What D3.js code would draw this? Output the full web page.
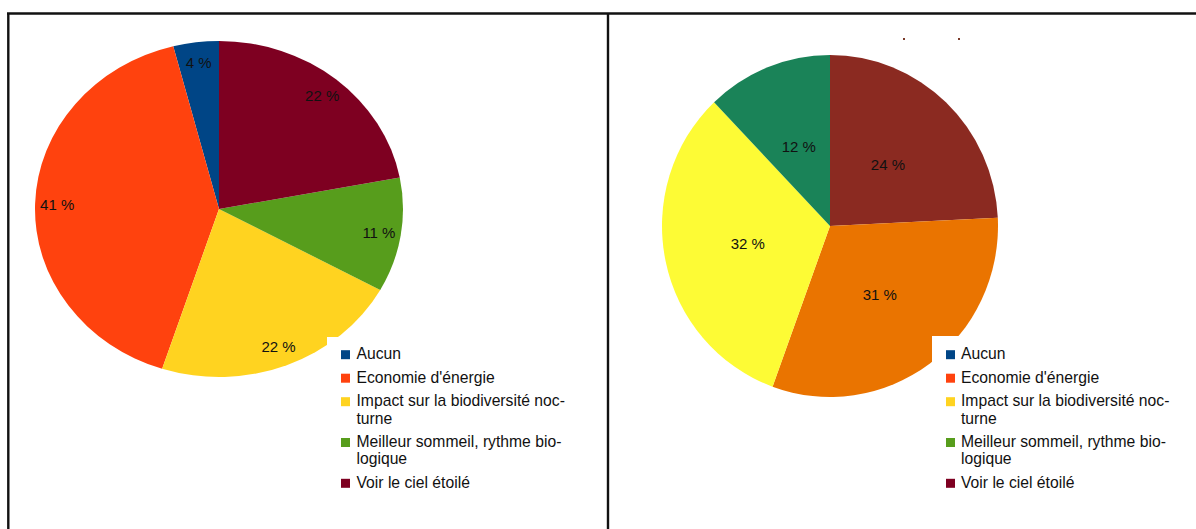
<!DOCTYPE html>
<html>
<head>
<meta charset="utf-8">
<script src="https://cdn.jsdelivr.net/npm/d3@7"></script>
<style>
  html, body { margin: 0; padding: 0; background: #fff; }
  svg { display: block; font-family: "Liberation Sans", Arial, sans-serif; }
</style>
</head>
<body>
<svg id="chart" width="1196" height="529"></svg>
<script>
// Answer categories (legend order)
const categories = ["Aucun", "Economie d'énergie", "Impact sur la biodiversité nocturne",
                    "Meilleur sommeil, rythme biologique", "Voir le ciel étoilé"];
// Legend text as it wraps in the legend box
const legendLines = [["Aucun"], ["Economie d'énergie"], ["Impact sur la biodiversité noc-", "turne"],
                     ["Meilleur sommeil, rythme bio-", "logique"], ["Voir le ciel étoilé"]];
const categoryColors = ["#004586", "#ff420e", "#ffd320", "#579d1c", "#7e0021"];

// Left pie: share per category (%)
const leftValues = [4, 41, 22, 11, 22];

// Right pie: slices clockwise from 12 o'clock (%), with their own fills
const rightValues = [24, 31, 32, 12];
const rightColors = ["#8b2a21", "#ea7400", "#fdfb35", "#1a8358"];

const svg = d3.select("#chart");

// Panel frame
const frame = svg.append("g").attr("stroke", "#111").attr("stroke-width", 2.4).attr("fill", "none");
frame.append("line").attr("x1", 7).attr("x2", 1196).attr("y1", 13.5).attr("y2", 13.5);
frame.append("line").attr("x1", 8.3).attr("x2", 8.3).attr("y1", 13).attr("y2", 529);
frame.append("line").attr("x1", 608).attr("x2", 608).attr("y1", 13).attr("y2", 529);

// Draws an (optionally elliptical) pie; labels sit at fraction `lf` of the radius
function drawPie(values, colors, cx, cy, rx, ry, clockwiseFromLast, lf) {
  const pie = d3.pie().sort(null).value(d => d);
  if (clockwiseFromLast) pie.startAngle(2 * Math.PI).endAngle(0);
  const arcs = pie(values);
  const arc = d3.arc().innerRadius(0).outerRadius(ry);
  const g = svg.append("g").attr("transform", `translate(${cx},${cy})`);
  g.append("g").attr("transform", `scale(${rx / ry},1)`)
    .selectAll("path").data(arcs).join("path")
    .attr("d", arc)
    .attr("fill", (d, i) => colors[i]);
  g.selectAll("text").data(arcs).join("text")
    .attr("x", d => { const a = (d.startAngle + d.endAngle) / 2; return Math.sin(a) * rx * lf; })
    .attr("y", d => { const a = (d.startAngle + d.endAngle) / 2; return -Math.cos(a) * ry * lf; })
    .attr("dy", "0.36em")
    .attr("text-anchor", "middle")
    .attr("font-size", 15)
    .attr("fill", "#111")
    .text(d => `${d.data} %`);
}

drawPie(leftValues, categoryColors, 219, 209, 184, 168, true, 0.88);
drawPie(rightValues, rightColors, 830, 226, 168, 171, false, 0.5);

// Legends with white backing box
function drawLegend(boxX, boxY, sqX, textX) {
  const g = svg.append("g");
  g.append("rect").attr("x", boxX).attr("y", boxY).attr("width", 260).attr("height", 170).attr("fill", "#fff");
  let y = 359.2;
  legendLines.forEach((lines, i) => {
    g.append("rect").attr("x", sqX).attr("y", y - 9).attr("width", 9).attr("height", 9)
      .attr("fill", categoryColors[i]);
    lines.forEach((ln, j) => {
      g.append("text").attr("x", textX).attr("y", y + j * 17.3)
        .attr("font-size", 15.7).attr("fill", "#111").text(ln);
    });
    y += lines.length * 17.3 + 6.2;
  });
}
drawLegend(327, 337, 341, 356.5);
drawLegend(932, 336, 946, 961);

// Two tiny specks above the right pie
svg.append("rect").attr("x", 903).attr("y", 38).attr("width", 2).attr("height", 2).attr("fill", "#7a3a2a");
svg.append("rect").attr("x", 958).attr("y", 38).attr("width", 2).attr("height", 2).attr("fill", "#7a3a2a");
</script>
</body>
</html>
